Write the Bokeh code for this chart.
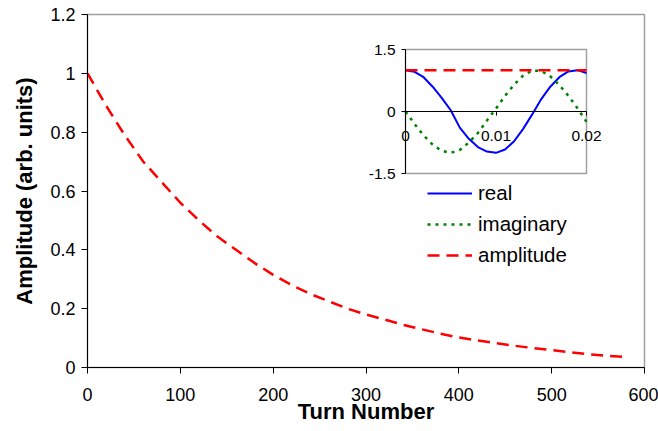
from bokeh.plotting import figure
from bokeh.models import Range1d, FixedTicker, Legend, LegendItem, LinearAxis
from bokeh.core.properties import value
from bokeh.embed import file_html
from bokeh.resources import INLINE

# ---- main chart data ----
turns = [0, 20, 40, 60, 80, 100, 120, 140, 160, 180, 200, 220, 240, 260, 280,
         300, 320, 340, 360, 380, 400, 420, 440, 460, 480, 500, 520, 540, 560, 580]
amplitude = [1.0, 0.89, 0.79, 0.70, 0.63, 0.56, 0.50, 0.445, 0.40, 0.355, 0.315,
             0.28, 0.25, 0.225, 0.20, 0.18, 0.163, 0.145, 0.13, 0.115, 0.102,
             0.092, 0.083, 0.074, 0.066, 0.059, 0.052, 0.045, 0.04, 0.036]
main_yticks = [0, 0.2, 0.4, 0.6, 0.8, 1.0, 1.2]
main_ylabels = ["0", "0.2", "0.4", "0.6", "0.8", "1", "1.2"]
main_xticks = [0, 100, 200, 300, 400, 500, 600]

# ---- inset data ----
inset_t = [0, 0.001, 0.002, 0.003, 0.004, 0.005, 0.006, 0.007, 0.008, 0.009, 0.010,
           0.011, 0.012, 0.013, 0.014, 0.015, 0.016, 0.017, 0.018, 0.019, 0.020]
real = [1.0, 0.96, 0.83, 0.6, 0.33, 0.03, -0.39, -0.66, -0.86, -0.97, -1.0,
        -0.92, -0.72, -0.42, -0.07, 0.3, 0.6, 0.83, 0.97, 1.0, 0.93]
imaginary = [0.0, -0.3, -0.58, -0.8, -0.95, -1.0, -0.93, -0.75, -0.52, -0.22, 0.07,
             0.38, 0.65, 0.87, 0.99, 0.98, 0.85, 0.64, 0.38, 0.08, -0.25]
inset_amp = [1.0, 1.0, 1.0, 1.0, 1.0, 1.0, 1.0, 1.0, 1.0, 1.0, 1.0,
             1.0, 1.0, 1.0, 1.0, 1.0, 1.0, 1.0, 1.0, 1.0, 1.0]
inset_x_min, inset_x_max = 0.0, 0.02
inset_y_min, inset_y_max = -1.5, 1.5
inset_yticks = [-1.5, 0, 1.5]
inset_ylabels = ["-1.5", "0", "1.5"]
inset_xticks = [0, 0.01, 0.02]
inset_xlabels = ["0", "0.01", "0.02"]

FONT = "Liberation Sans"

# ---- layout geometry (pixels) ----
FL, FR, FT, FB = 87, 644, 14, 367          # main frame
IL, IR, IT, IB = 405, 586, 49, 173         # inset frame

# inset ranges mapped over the whole main frame so inset box lands at IL..IR, IT..IB
sx = (inset_x_max - inset_x_min) / (IR - IL)
sy = (inset_y_max - inset_y_min) / (IB - IT)
ix_range = Range1d(inset_x_min - (IL - FL) * sx, inset_x_max + (FR - IR) * sx)
iy_range = Range1d(inset_y_min - (FB - IB) * sy, inset_y_max + (IT - FT) * sy)

p = figure(frame_width=FR - FL, frame_height=FB - FT, output_backend="svg",
           toolbar_location=None, x_range=Range1d(0, 600), y_range=Range1d(0, 1.2),
           min_border_left=FL, min_border_right=658 - FR, min_border_top=FT,
           min_border_bottom=431 - FB)
p.extra_x_ranges = {"ix": ix_range}
p.extra_y_ranges = {"iy": iy_range}
p.grid.visible = False
p.outline_line_color = "#a0a0a0"
p.outline_line_width = 1.5
p.background_fill_color = "white"

# main curve
r_main = p.line(turns, amplitude, line_color="#ff0000", line_width=2.5, line_dash="12 7")

for ax in (p.xaxis[0], p.yaxis[0]):
    ax.major_tick_out = 6
    ax.major_tick_in = 0
    ax.minor_tick_out = 0
    ax.minor_tick_in = 0
    ax.axis_line_color = "black"
    ax.major_tick_line_color = "black"
    ax.major_label_text_font = FONT
    ax.major_label_text_font_size = "18px"
    ax.major_label_text_color = "black"
    ax.axis_label_text_font = FONT
    ax.axis_label_text_font_size = "22px"
    ax.axis_label_text_font_style = "bold"
    ax.axis_label_text_color = "black"

p.xaxis.ticker = FixedTicker(ticks=main_xticks)
p.xaxis.axis_label = "Turn Number"
p.xaxis.major_label_standoff = 14
p.xaxis.axis_label_standoff = -5

p.yaxis.ticker = FixedTicker(ticks=main_yticks)
p.yaxis.major_label_overrides = {t: s for t, s in zip(main_yticks, main_ylabels)}
p.yaxis.axis_label = "Amplitude (arb. units)"
p.yaxis.major_label_standoff = 6
p.yaxis.axis_label_standoff = 10

# ---- inset ----
p.quad(left=[inset_x_min], right=[inset_x_max], bottom=[inset_y_min], top=[inset_y_max],
       fill_color="white", line_color="#a0a0a0", line_width=1.5,
       x_range_name="ix", y_range_name="iy")

r_real = p.line(inset_t, real, line_color="#0000ff", line_width=2,
                x_range_name="ix", y_range_name="iy")
r_imag = p.line(inset_t, imaginary, line_color="#008000", line_width=2.5, line_dash="3 5",
                x_range_name="ix", y_range_name="iy")
r_amp = p.line(inset_t, inset_amp, line_color="#ff0000", line_width=2.5, line_dash="12 7",
               x_range_name="ix", y_range_name="iy")

iy_axis = LinearAxis(x_range_name="ix", y_range_name="iy", fixed_location=0,
                     bounds=(inset_y_min, inset_y_max),
                     ticker=FixedTicker(ticks=inset_yticks),
                     major_label_overrides={t: "" for t in inset_yticks},
                     major_tick_out=4, major_tick_in=0, minor_tick_out=0, minor_tick_in=0,
                     major_label_standoff=0, axis_line_color="black",
                     major_tick_line_color="black")
p.add_layout(iy_axis, "left")

ix_axis = LinearAxis(x_range_name="ix", y_range_name="iy", fixed_location=0,
                     bounds=(inset_x_min, inset_x_max),
                     ticker=FixedTicker(ticks=inset_xticks),
                     major_label_overrides={t: "" for t in inset_xticks},
                     major_tick_out=4, major_tick_in=0, minor_tick_out=0, minor_tick_in=0,
                     major_label_standoff=0, axis_line_color="black",
                     major_tick_line_color="black")
p.add_layout(ix_axis, "below")

# inset tick labels
p.text(x=[0, 0, 0], y=inset_yticks, text=inset_ylabels, x_range_name="ix", y_range_name="iy",
       x_offset=-10, text_align="right", text_baseline="middle",
       text_font=value(FONT), text_font_size="15.5px", text_color="black")
p.text(x=inset_xticks, y=[0, 0, 0], text=inset_xlabels, x_range_name="ix", y_range_name="iy",
       y_offset=24, text_align="center", text_baseline="middle",
       text_font=value(FONT), text_font_size="15.5px", text_color="black")

legend = Legend(items=[LegendItem(label="real", renderers=[r_real]),
                       LegendItem(label="imaginary", renderers=[r_imag]),
                       LegendItem(label="amplitude", renderers=[r_amp])],
                location=(427 - FL, FB - 269), padding=0, margin=0, spacing=3,
                glyph_width=45, glyph_height=28, label_height=28,
                label_standoff=6, label_text_font=FONT,
                label_text_font_size="20.5px", label_text_color="black",
                border_line_alpha=0, background_fill_alpha=0)
p.add_layout(legend, "center")

with open("out.html", "w") as f:
    f.write(file_html(p, INLINE))
